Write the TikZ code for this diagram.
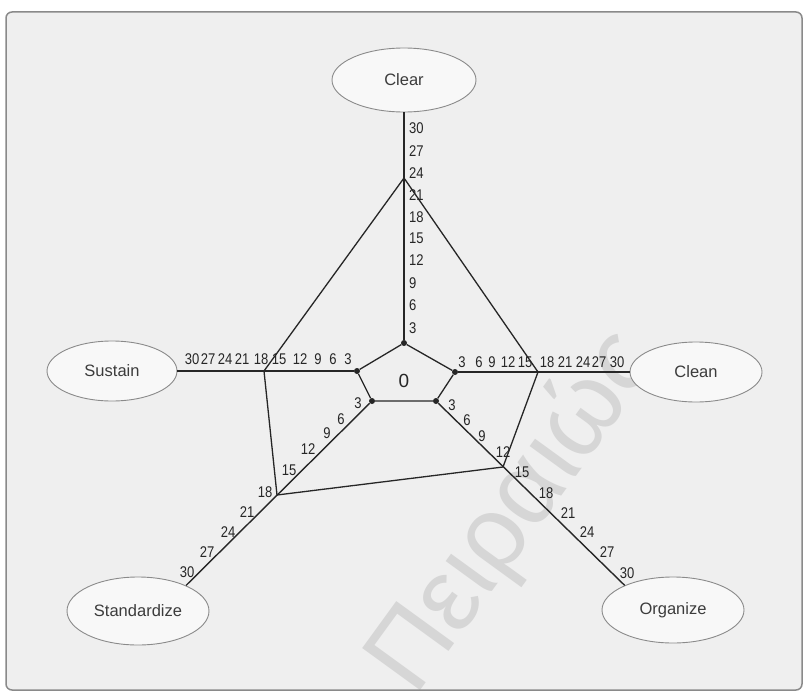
\documentclass[tikz,border=0pt]{standalone}
\usepackage{fontspec}
\setmainfont{Liberation Sans}
\newfontfamily\tickfont[FakeStretch=0.84]{Liberation Sans}
\usetikzlibrary{shapes.geometric}
\definecolor{paper}{HTML}{EFEFEF}
\definecolor{ink}{HTML}{262626}
\definecolor{rim}{HTML}{8A8A8A}
\definecolor{oval}{HTML}{F8F8F8}
\definecolor{wm}{HTML}{D6D6D6}
\tikzset{
  axisline/.style={draw=ink, line width=1.4pt},
  polyline/.style={draw=ink, line width=1.3pt},
  ovalbox/.style={ellipse, draw=rim, line width=0.9pt, fill=oval, inner sep=0pt,
    text=ink!90, font=\fontsize{16.5}{19}\selectfont},
  tick/.style={inner sep=0pt, text=ink, font=\tickfont\fontsize{15.5}{17}\selectfont},
  hub/.style={circle, fill=ink, inner sep=0pt, minimum size=6pt},
}
\begin{document}
\begin{tikzpicture}[x=1pt,y=-1pt]
\useasboundingbox (0,0) rectangle (805,693);
\fill[white] (0,0) rectangle (805,693);
% panel
\begin{scope}
\clip[rounded corners=6pt] (6,12) rectangle (802,690);
\fill[paper] (6,12) rectangle (802,690);
% watermark
\node[text=wm, rotate=54, font=\fontsize{104}{116}\selectfont] (mark) at (515,512) {Πειραιώς};
\end{scope}
\draw[rim, line width=1.5pt, rounded corners=6pt] (6,12) rectangle (802,690);

% the five categories
\node[ovalbox, minimum width=144pt, minimum height=64pt] (clear) at (404,80) {Clear};
\node[ovalbox, minimum width=130pt, minimum height=60pt] (sustain) at (112,371) {Sustain};
\node[ovalbox, minimum width=132pt, minimum height=60pt] (clean) at (696,372) {Clean};
\node[ovalbox, minimum width=142pt, minimum height=68pt] (standardize) at (138,611) {Standardize};
\node[ovalbox, minimum width=142pt, minimum height=66pt] (organize) at (673,610) {Organize};

% inner pentagon (origin of each scale)
\node[hub] (hClear) at (404,343) {};
\node[hub] (hClean) at (455,372) {};
\node[hub] (hOrg) at (436,401) {};
\node[hub] (hStd) at (372,401) {};
\node[hub] (hSus) at (357,371) {};
\draw[polyline] (hClear) -- (hClean) -- (hOrg) -- (hStd) -- (hSus) -- (hClear);
\node[text=ink, inner sep=0pt, font=\fontsize{19}{22}\selectfont] (zero) at (404,381) {0};

% scale axes
\draw[axisline] (hClear) -- (clear.south);
\draw[axisline] (hClean) -- (clean.west);
\draw[axisline] (hOrg) -- (organize.153);
\draw[axisline] (hStd) -- (standardize.28);
\draw[axisline] (hSus) -- (sustain.east);

% score polygon
\coordinate (dClear) at (404,178);
\coordinate (dClean) at (538,372);
\coordinate (dOrg) at (503,467);
\coordinate (dStd) at (277,495);
\coordinate (dSus) at (264,371);
\draw[polyline] (dClear) -- (dClean) -- (dOrg) -- (dStd) -- (dSus) -- cycle;

% scale numbers
\foreach \v/\y in {30/128,27/151,24/173,21/195,18/217,15/238,12/260,9/283,6/305,3/328}
  \node[tick, anchor=west] (tc\v) at (409,\y) {\v};
\foreach \v/\x in {30/192,27/208,24/225,21/242,18/261,15/279,12/300,9/318,6/333,3/348}
  \node[tick] (ts\v) at (\x,359) {\v};
\foreach \v/\x in {3/462,6/479,9/492,12/508,15/525,18/547,21/565,24/583,27/599,30/617}
  \node[tick] (tn\v) at (\x,362) {\v};
\foreach \v/\x/\y in {3/358/403,6/341/419,9/327/433,12/308/449,15/289/470,18/265/492,21/247/512,24/228/532,27/207/552,30/187/572}
  \node[tick] (td\v) at (\x,\y) {\v};
\foreach \v/\x/\y in {3/452/405,6/467/420,9/482/436,12/503/452,15/522/472,18/546/493,21/568/513,24/587/532,27/607/552,30/627/573}
  \node[tick] (to\v) at (\x,\y) {\v};
\end{tikzpicture}
\end{document}
